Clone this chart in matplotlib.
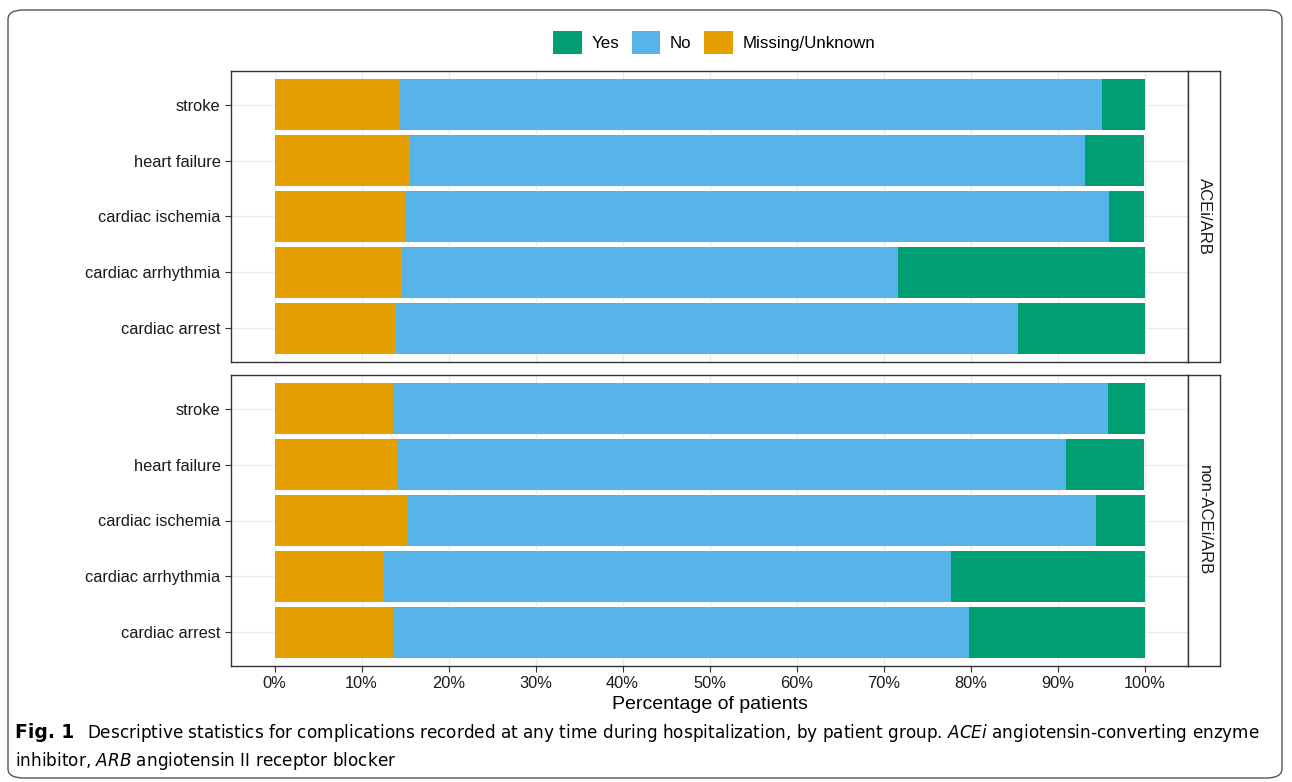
import matplotlib
matplotlib.use("Agg")
import matplotlib.pyplot as plt
from matplotlib.patches import Patch, FancyBboxPatch
import numpy as np

# data (percent of patients)
complications = ["stroke", "heart failure", "cardiac ischemia",
                 "cardiac arrhythmia", "cardiac arrest"]
groups = ["ACEi/ARB", "non-ACEi/ARB"]

missing_acei = [14.4, 15.6, 15.0, 14.7, 14.0]
no_acei = [80.7, 77.6, 80.9, 57.0, 71.5]
yes_acei = [4.9, 6.8, 4.1, 28.3, 14.5]

missing_non = [13.6, 14.1, 15.2, 12.5, 13.6]
no_non = [82.2, 76.9, 79.2, 65.3, 66.2]
yes_non = [4.2, 9.0, 5.6, 22.2, 20.2]

xticks = np.arange(0, 101, 10)
xtick_labels = [f"{t}%" for t in xticks]

col_yes = "#009E73"
col_no = "#56B4E9"
col_missing = "#E69F00"

plt.rcParams["font.family"] = ["Liberation Sans", "DejaVu Sans"]

W, H = 1292, 782
fig = plt.figure(figsize=(W / 100, H / 100), dpi=100)


def fbox(x0, y0, x1, y1):
    # pixel box (top-left origin) -> figure fraction rect
    return [x0 / W, 1 - y1 / H, (x1 - x0) / W, (y1 - y0) / H]


panels = [
    ((71, 362), missing_acei, no_acei, yes_acei, groups[0]),
    ((375, 666), missing_non, no_non, yes_non, groups[1]),
]

pos = np.arange(len(complications))[::-1]

for i, ((y0, y1), miss, no, yes, grp) in enumerate(panels):
    ax = fig.add_axes(fbox(231, y0, 1188, y1))
    miss = np.array(miss)
    no = np.array(no)
    yes = np.array(yes)
    ax.barh(pos, miss, height=0.9, color=col_missing, zorder=2)
    ax.barh(pos, no, left=miss, height=0.9, color=col_no, zorder=2)
    ax.barh(pos, yes, left=miss + no, height=0.9, color=col_yes, zorder=2)
    ax.set_xlim(-5, 105)
    ax.set_ylim(-0.6, len(complications) - 0.4)
    ax.set_yticks(pos)
    ax.set_yticklabels(complications, fontsize=11.8, color="#1a1a1a")
    ax.set_xticks(xticks)
    ax.grid(True, color="#ebebeb", linewidth=0.8, zorder=0)
    ax.tick_params(axis="both", length=4, color="#333333", width=0.8)
    for s in ax.spines.values():
        s.set_color("#333333")
        s.set_linewidth(1.0)
    if i == 0:
        ax.set_xticklabels([])
        ax.tick_params(axis="x", length=0)
    else:
        ax.set_xticklabels(xtick_labels, fontsize=11.8, color="#1a1a1a")
        ax.set_xlabel("Percentage of patients", fontsize=14, labelpad=3)

    # facet strip on the right
    sax = fig.add_axes(fbox(1188, y0, 1220, y1))
    sax.set_xticks([])
    sax.set_yticks([])
    for s in sax.spines.values():
        s.set_color("#333333")
        s.set_linewidth(1.0)
    sax.text(0.5, 0.5, grp, rotation=-90, ha="center", va="center",
             fontsize=12, color="#1a1a1a", transform=sax.transAxes)

handles = [Patch(facecolor=col_yes, label="Yes"),
           Patch(facecolor=col_no, label="No"),
           Patch(facecolor=col_missing, label="Missing/Unknown")]
fig.legend(handles=handles, loc="center", bbox_to_anchor=(0.5526, 0.946),
           ncol=3, frameon=False, fontsize=12.2, handlelength=1.7,
           handleheight=1.7, handletextpad=0.55, columnspacing=0.75)

# caption
cap_fam = ["DejaVu Sans"]
fig.text(15 / W, 1 - 733 / H, "Fig. 1", fontsize=13.5, fontweight="bold",
         va="center", family=cap_fam)
fig.text(87 / W, 1 - 733 / H,
         "Descriptive statistics for complications recorded at any time during "
         "hospitalization, by patient group. $\\it{ACEi}$ angiotensin-converting enzyme",
         fontsize=12.2, va="center", family=cap_fam)
fig.text(15 / W, 1 - 761 / H,
         "inhibitor, $\\it{ARB}$ angiotensin II receptor blocker",
         fontsize=12.2, va="center", family=cap_fam)

frame = FancyBboxPatch((8 / W, 4 / H), 1274 / W, 768 / H,
                       boxstyle="round,pad=0,rounding_size=0.012",
                       transform=fig.transFigure, fill=False,
                       edgecolor="#555555", linewidth=1.0)
fig.patches.append(frame)

fig.savefig("out.png", dpi=100)
